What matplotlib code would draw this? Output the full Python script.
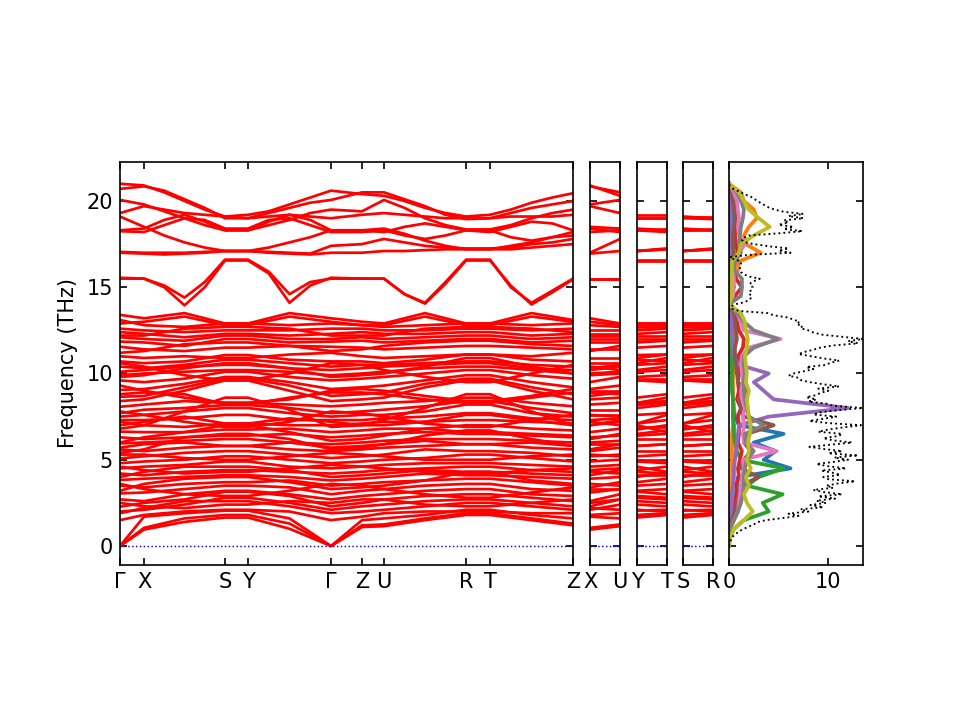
import numpy as np
import matplotlib
matplotlib.use("Agg")
import matplotlib.pyplot as plt

# high-symmetry points of the main path (path length)
main_labels = ["Γ", "X", "S", "Y", "Γ", "Z", "U", "R", "T", "Z"]
main_q = [0.0, 0.024, 0.105, 0.128, 0.211, 0.242, 0.264, 0.346, 0.370, 0.453]
# short separate segments
seg_labels = [("X", "U"), ("Y", "T"), ("S", "R")]
seg_len = 0.030

# sampling of each main segment for the two band groups
fine_sub = [1, 4, 1, 4, 1, 1, 4, 1, 4]
coarse_sub = [1, 2, 1, 2, 1, 1, 2, 1, 2]

# upper bands (THz) on the fine grid:
# Γ X . . . S Y . . . Γ Z U . . . R T . . . Z
bands_high = [
    [21.0, 20.9, 20.5, 20.0, 19.5, 19.1, 19.2, 19.4, 19.8, 20.2, 20.6, 20.4, 20.3, 20.0, 19.6, 19.3, 19.1, 19.2, 19.5, 19.9, 20.2, 20.45],
    [20.7, 20.85, 20.6, 20.1, 19.6, 19.0, 19.0, 19.3, 19.6, 19.9, 20.06, 20.5, 20.5, 20.1, 19.7, 19.2, 18.95, 19.0, 19.3, 19.6, 19.8, 20.0],
    [20.06, 19.8, 19.4, 19.0, 18.6, 18.3, 18.3, 18.6, 18.9, 19.3, 19.5, 19.4, 20.06, 19.6, 19.0, 18.6, 18.35, 18.35, 18.6, 19.0, 19.3, 19.5],
    [19.3, 19.7, 19.5, 19.3, 19.2, 19.1, 19.0, 19.1, 19.2, 19.1, 19.0, 19.2, 19.3, 19.2, 19.1, 19.0, 19.0, 19.0, 19.1, 19.1, 19.1, 19.2],
    [19.1, 18.5, 18.0, 17.6, 17.3, 17.1, 17.1, 17.3, 17.6, 17.9, 18.3, 18.3, 18.4, 18.1, 17.7, 17.4, 17.2, 17.2, 17.4, 17.6, 17.9, 18.2],
    [18.3, 18.4, 18.9, 19.2, 18.8, 18.3, 18.3, 18.8, 19.2, 18.9, 18.3, 18.3, 18.2, 18.5, 18.7, 18.5, 18.3, 18.2, 18.5, 18.8, 18.7, 18.3],
    [18.25, 18.2, 18.6, 19.0, 18.9, 18.4, 18.4, 18.9, 19.0, 18.6, 18.2, 18.2, 18.3, 18.0, 17.8, 18.0, 18.3, 18.3, 17.9, 17.7, 17.9, 18.0],
    [17.05, 17.0, 17.0, 17.0, 17.05, 17.1, 17.1, 17.05, 17.0, 16.95, 17.4, 17.5, 17.8, 17.6, 17.4, 17.3, 17.25, 17.25, 17.3, 17.5, 17.6, 17.8],
    [17.0, 16.95, 16.9, 16.95, 17.0, 17.1, 17.1, 17.0, 16.95, 16.9, 17.0, 17.0, 17.1, 17.1, 17.15, 17.2, 17.2, 17.2, 17.2, 17.3, 17.4, 17.5],
    [15.5, 15.5, 15.1, 14.4, 15.3, 16.6, 16.6, 15.9, 14.6, 15.3, 15.5, 15.5, 15.5, 14.6, 14.1, 15.3, 16.6, 16.6, 15.0, 14.1, 14.8, 15.5],
    [15.55, 15.5, 15.0, 13.95, 15.0, 16.55, 16.55, 15.8, 14.1, 15.1, 15.55, 15.5, 15.5, 14.6, 14.05, 15.2, 16.55, 16.55, 15.1, 14.0, 14.7, 15.45],
]

# lower bands (THz) on the coarse grid: Γ X . S Y . Γ Z U . R T . Z
bands_low = [
    [0.0, 0.95, 1.4, 1.65, 1.65, 1.0, 0.0, 1.1, 1.15, 1.5, 1.8, 1.8, 1.5, 1.2],
    [0.0, 1.05, 1.6, 1.8, 1.8, 1.3, 0.0, 1.2, 1.25, 1.6, 1.9, 1.9, 1.6, 1.3],
    [0.0, 1.7, 1.9, 2.05, 2.05, 1.6, 0.0, 1.5, 1.6, 1.8, 2.1, 2.1, 1.8, 1.6],
    [1.5, 1.8, 2.0, 2.1, 2.1, 2.0, 1.5, 1.7, 1.9, 2.0, 2.0, 2.0, 1.9, 1.9],
    [1.9, 2.2, 2.6, 2.6, 2.6, 2.3, 1.9, 2.0, 2.1, 2.3, 2.5, 2.5, 2.3, 2.1],
    [2.0, 2.1, 2.4, 2.8, 2.8, 2.5, 2.1, 2.3, 2.4, 2.6, 2.7, 2.7, 2.5, 2.3],
    [2.28, 2.5, 2.7, 3.15, 3.15, 2.9, 2.3, 2.5, 2.7, 2.9, 3.0, 3.0, 2.8, 2.6],
    [2.5, 2.3, 2.2, 2.4, 2.4, 2.6, 2.5, 2.7, 2.7, 2.4, 2.3, 2.3, 2.5, 2.7],
    [2.7, 2.6, 3.0, 3.2, 3.2, 3.0, 2.7, 2.9, 3.0, 3.2, 3.3, 3.3, 3.0, 2.9],
    [3.05, 3.1, 3.3, 3.5, 3.5, 3.4, 3.0, 3.2, 3.3, 3.5, 3.6, 3.6, 3.3, 3.2],
    [3.2, 3.6, 3.9, 4.0, 4.0, 3.7, 3.3, 3.4, 3.5, 3.8, 4.3, 4.3, 3.8, 3.6],
    [3.5, 3.4, 3.6, 3.7, 3.7, 3.8, 3.5, 3.6, 3.7, 3.8, 3.9, 3.9, 3.7, 3.5],
    [3.6, 3.3, 3.0, 2.9, 2.9, 3.2, 3.6, 3.5, 3.3, 3.0, 2.8, 2.8, 3.1, 3.4],
    [3.83, 3.9, 4.0, 4.1, 4.1, 4.0, 3.8, 3.9, 4.0, 4.2, 4.1, 4.1, 4.0, 3.9],
    [4.0, 4.3, 4.6, 4.6, 4.6, 4.4, 4.0, 4.1, 4.2, 4.4, 4.3, 4.3, 4.2, 4.1],
    [4.2, 4.1, 4.3, 4.4, 4.4, 4.3, 4.2, 4.3, 4.4, 4.5, 4.6, 4.6, 4.4, 4.3],
    [4.5, 4.6, 4.7, 4.9, 4.9, 4.6, 4.5, 4.6, 4.7, 4.8, 4.8, 4.8, 4.7, 4.6],
    [4.6, 4.4, 4.2, 4.3, 4.3, 4.5, 4.7, 4.6, 4.5, 4.3, 4.2, 4.2, 4.4, 4.5],
    [4.8, 4.9, 5.0, 5.2, 5.2, 5.0, 4.8, 4.9, 5.0, 5.1, 5.3, 5.3, 5.1, 4.9],
    [5.08, 5.2, 5.4, 5.5, 5.5, 5.3, 5.1, 5.2, 5.3, 5.6, 5.5, 5.5, 5.4, 5.2],
    [5.3, 5.3, 5.1, 5.0, 5.0, 5.2, 5.4, 5.3, 5.2, 5.0, 5.0, 5.0, 5.2, 5.3],
    [5.4, 5.6, 6.3, 6.5, 6.5, 6.2, 5.6, 5.7, 5.9, 6.4, 6.7, 6.7, 6.2, 5.8],
    [5.6, 5.5, 5.7, 5.8, 5.8, 5.6, 5.5, 5.6, 5.7, 5.8, 5.9, 5.9, 5.7, 5.6],
    [5.7, 5.9, 6.0, 5.8, 5.8, 6.0, 5.7, 5.8, 5.9, 6.1, 5.9, 5.9, 6.0, 5.8],
    [5.95, 6.0, 6.1, 6.2, 6.2, 6.0, 5.9, 6.0, 6.1, 6.2, 6.2, 6.2, 6.1, 6.0],
    [6.0, 6.3, 6.6, 7.0, 7.0, 6.6, 6.1, 6.2, 6.4, 6.8, 6.6, 6.6, 6.5, 6.4],
    [6.3, 6.2, 6.3, 6.4, 6.4, 6.5, 6.3, 6.4, 6.5, 6.6, 6.5, 6.5, 6.4, 6.3],
    [6.63, 6.6, 6.6, 6.75, 6.75, 6.8, 6.6, 6.7, 6.8, 6.8, 7.0, 7.0, 6.8, 6.7],
    [6.8, 7.0, 7.8, 8.6, 8.6, 7.9, 6.9, 7.0, 7.3, 8.0, 8.8, 8.8, 7.8, 7.0],
    [7.0, 7.2, 7.5, 7.1, 7.1, 7.4, 7.2, 7.0, 7.0, 7.2, 7.6, 7.6, 7.3, 7.0],
    [7.2, 7.0, 6.9, 7.1, 7.1, 7.0, 7.0, 7.1, 7.2, 7.2, 7.3, 7.3, 7.2, 7.1],
    [7.3, 7.3, 7.4, 7.6, 7.6, 7.3, 7.3, 7.3, 7.4, 7.5, 7.7, 7.7, 7.4, 7.3],
    [7.5, 7.6, 7.8, 8.0, 8.0, 7.7, 7.5, 7.6, 7.6, 7.8, 8.2, 8.2, 7.7, 7.5],
    [7.7, 7.9, 8.0, 8.17, 8.17, 8.0, 7.7, 7.8, 7.9, 8.1, 8.4, 8.4, 8.0, 7.7],
    [7.8, 7.6, 7.2, 6.9, 6.9, 7.2, 7.8, 7.7, 7.5, 7.1, 6.9, 6.9, 7.3, 7.6],
    [8.07, 8.2, 8.4, 8.3, 8.3, 8.2, 8.1, 8.2, 8.3, 8.4, 8.6, 8.6, 8.3, 8.1],
    [8.4, 8.5, 9.0, 9.6, 9.6, 9.0, 8.4, 8.5, 8.6, 9.2, 9.6, 9.6, 9.0, 8.5],
    [8.65, 8.7, 9.2, 9.7, 9.7, 9.3, 8.7, 8.8, 8.9, 9.4, 9.7, 9.7, 9.2, 8.8],
    [8.8, 8.9, 8.8, 8.2, 8.2, 8.6, 8.9, 8.9, 8.8, 8.5, 8.3, 8.3, 8.6, 8.9],
    [9.05, 9.1, 9.4, 9.8, 9.8, 9.5, 9.1, 9.2, 9.3, 9.6, 9.9, 9.9, 9.5, 9.2],
    [9.3, 9.0, 8.6, 8.3, 8.3, 8.5, 9.0, 9.1, 9.0, 8.7, 8.4, 8.4, 8.7, 9.1],
    [9.6, 9.5, 9.7, 10.1, 10.1, 9.8, 9.6, 9.7, 9.8, 10.0, 10.2, 10.2, 9.9, 9.7],
    [9.8, 9.9, 10.3, 10.6, 10.6, 10.3, 9.8, 9.9, 10.0, 10.4, 10.9, 10.9, 10.4, 10.0],
    [9.9, 10.0, 10.1, 10.2, 10.2, 10.1, 9.9, 10.0, 10.1, 10.3, 10.4, 10.4, 10.2, 10.0],
    [10.1, 10.2, 10.4, 10.5, 10.5, 10.3, 10.2, 10.3, 10.4, 10.5, 10.6, 10.6, 10.3, 10.2],
    [10.4, 10.3, 10.5, 10.8, 10.8, 10.6, 10.4, 10.5, 10.5, 10.6, 10.7, 10.7, 10.5, 10.4],
    [10.6, 10.4, 9.9, 9.6, 9.6, 10.0, 10.6, 10.5, 10.2, 9.8, 9.5, 9.5, 10.0, 10.5],
    [10.7, 10.6, 10.7, 11.07, 11.07, 10.8, 10.7, 10.7, 10.6, 10.8, 11.1, 11.1, 10.8, 10.7],
    [11.0, 10.9, 11.0, 10.9, 10.9, 11.1, 11.2, 11.0, 10.9, 11.0, 11.1, 11.1, 11.0, 11.2],
    [11.2, 11.3, 11.7, 11.8, 11.8, 11.6, 11.3, 11.4, 11.6, 11.8, 11.9, 11.9, 11.7, 11.6],
    [11.55, 11.4, 11.3, 11.5, 11.5, 11.6, 11.55, 11.5, 11.4, 11.5, 11.6, 11.6, 11.5, 11.4],
    [11.85, 11.8, 11.6, 12.0, 12.0, 11.8, 11.85, 11.9, 11.8, 11.9, 12.0, 12.0, 11.8, 11.9],
    [12.1, 12.0, 11.9, 12.2, 12.2, 12.0, 12.0, 12.1, 12.0, 12.1, 12.2, 12.2, 12.0, 12.1],
    [12.2, 12.2, 12.6, 12.7, 12.7, 12.6, 12.2, 12.2, 12.2, 12.6, 12.7, 12.7, 12.6, 12.4],
    [12.4, 12.3, 12.1, 12.3, 12.3, 12.2, 12.3, 12.4, 12.3, 12.3, 12.4, 12.4, 12.2, 12.3],
    [12.6, 12.5, 12.4, 12.5, 12.5, 12.5, 12.6, 12.6, 12.5, 12.5, 12.6, 12.6, 12.5, 12.6],
    [12.9, 13.0, 13.3, 12.8, 12.8, 13.3, 13.0, 12.8, 12.8, 13.3, 12.8, 12.8, 13.3, 13.0],
    [13.1, 12.8, 12.7, 12.9, 12.9, 12.8, 12.9, 12.8, 12.7, 12.8, 12.9, 12.9, 12.8, 12.9],
    [13.4, 13.2, 13.5, 12.9, 12.9, 13.5, 13.2, 13.0, 12.9, 13.5, 12.9, 12.9, 13.5, 13.1],
]

# density of states: total on a 0.125 THz grid (one row per THz)
dos_total = [
    0.0, 0.05, 0.1, 0.2, 0.3, 0.5, 0.8, 1.1,
    1.5, 2.0, 2.5, 2.8, 3.7, 5.5, 7.0, 6.0,
    8.0, 7.2, 9.5, 8.2, 9.8, 8.8, 10.7, 9.0,
    11.4, 9.6, 8.5, 10.5, 9.8, 11.0, 12.7, 10.0,
    9.5, 11.2, 10.4, 9.3, 11.8, 10.0, 8.8, 10.5,
    12.0, 10.6, 13.0, 10.0, 11.4, 9.5, 8.1, 10.2,
    12.4, 10.5, 9.5, 11.0, 11.4, 9.0, 10.0, 11.5,
    13.3, 10.0, 8.1, 9.5, 10.8, 8.5, 9.2, 11.0,
    13.5, 10.5, 9.8, 8.0, 8.8, 7.8, 8.8, 9.2,
    10.0, 9.0, 11.1, 9.5, 8.1, 7.2, 7.0, 6.0,
    6.5, 7.5, 8.5, 7.8, 9.8, 10.2, 11.1, 9.5,
    8.3, 7.0, 7.6, 8.5, 9.2, 10.5, 13.0, 12.0,
    13.5, 11.5, 9.4, 8.5, 8.0, 7.2, 7.4, 6.8,
    7.1, 6.5, 5.9, 4.5, 3.9, 1.0, 0.3, 0.2,
    0.5, 1.5, 2.0, 2.2, 2.3, 2.0, 2.1, 2.3,
    2.4, 2.1, 2.2, 2.6, 3.1, 2.0, 1.5, 1.2,
    1.1, 1.1, 1.1, 1.2, 1.2, 0.5, 0.1, 2.0,
    6.2, 5.0, 6.0, 4.0, 2.5, 1.5, 1.3, 1.5,
    2.0, 5.0, 7.4, 5.5, 6.5, 5.0, 6.0, 5.5,
    7.5, 6.0, 7.5, 5.5, 4.6, 4.0, 3.6, 3.2,
    2.9, 2.5, 2.2, 1.6, 1.2, 0.7, 0.3, 0.1,
    0.0,
]
# projected densities on a 0.5 THz grid
pdos = {
    "tab:blue": [0, 0, 0.1, 0.3, 0.5, 0.6, 0.7, 0.8, 0.9, 6.2,
                 3.5, 4.7, 2.5, 5.5, 1.0, 0.6, 0.5, 0.4, 0.4, 0.3,
                 0.4, 0.3, 0.3, 0.3, 0.4, 0.3, 0.3, 0.2, 0, 0.1,
                 0.1, 0.1, 0.1, 0.1, 0.2, 0.2, 0.2, 0.2, 0.2, 0.2, 0.1, 0.1, 0],
    "tab:orange": [0, 0, 0, 0.1, 0.2, 0.2, 0.2, 0.3, 0.3, 0.3,
                   0.3, 0.3, 0.3, 0.3, 0.4, 0.4, 0.5, 0.4, 0.4, 0.4,
                   0.4, 0.5, 0.5, 0.5, 0.6, 0.6, 0.5, 0.4, 0, 0.3,
                   0.4, 0.5, 0.9, 1.0, 3.2, 1.7, 1.5, 2.0, 2.8, 2.5, 1.5, 1.2, 0],
    "tab:green": [0, 0.1, 0.5, 1.5, 4.0, 3.4, 5.4, 1.8, 3.0, 5.5,
                  1.2, 0.8, 0.6, 0.5, 0.5, 0.4, 0.4, 0.4, 0.3, 0.3,
                  0.3, 0.3, 0.3, 0.3, 0.3, 0.3, 0.3, 0.2, 0, 0.1,
                  0.1, 0.1, 0.1, 0.1, 0.1, 0.1, 0.1, 0.1, 0.1, 0.1, 0.1, 0, 0],
    "tab:red": [0, 0, 0.1, 0.3, 0.5, 0.6, 0.8, 0.7, 1.0, 0.9,
                1.1, 1.3, 0.9, 1.0, 1.0, 0.9, 1.2, 0.8, 1.0, 0.9,
                1.0, 1.1, 0.9, 1.4, 1.5, 1.0, 0.8, 0.6, 0, 0.6,
                1.3, 0.7, 0.5, 0.6, 0.9, 0.7, 0.6, 0.7, 0.8, 0.7, 0.6, 0.4, 0],
    "tab:purple": [0, 0, 0, 0.1, 0.2, 0.3, 0.3, 0.4, 0.5, 0.5,
                   0.6, 0.7, 0.8, 0.9, 1.0, 4.0, 12.0, 4.5, 3.5, 2.5,
                   4.0, 1.0, 0.5, 0.4, 0.4, 0.3, 0.3, 0.2, 0, 0.1,
                   0.1, 0.1, 0.1, 0.1, 0.1, 0.1, 0.1, 0.1, 0.1, 0.1, 0.1, 0, 0],
    "tab:brown": [0, 0, 0.1, 0.3, 0.6, 0.8, 1.0, 1.2, 3.0, 1.2,
                  1.5, 2.2, 1.5, 1.8, 4.5, 1.5, 1.2, 1.0, 1.8, 0.9,
                  0.8, 0.7, 0.6, 0.6, 0.8, 0.7, 0.6, 0.5, 0, 0.3,
                  0.4, 0.4, 0.3, 0.3, 0.5, 0.4, 0.4, 0.5, 0.6, 0.5, 0.4, 0.3, 0],
    "tab:pink": [0, 0, 0.1, 0.5, 0.9, 1.0, 1.1, 1.2, 1.3, 1.5,
                 1.4, 4.8, 1.5, 1.4, 1.5, 1.4, 1.6, 1.3, 1.2, 1.4,
                 1.3, 1.2, 1.3, 2.0, 5.2, 1.5, 1.2, 0.8, 0, 0.4,
                 0.5, 0.5, 0.4, 0.6, 1.0, 1.6, 1.0, 0.9, 1.0, 0.9, 0.8, 0.5, 0],
    "tab:gray": [0, 0, 0.1, 0.5, 0.9, 1.2, 1.4, 1.5, 1.5, 1.6,
                 1.8, 2.5, 1.7, 1.6, 3.5, 2.0, 1.8, 1.6, 1.5, 1.5,
                 1.6, 1.5, 1.5, 2.5, 4.9, 2.5, 1.5, 0.8, 0, 1.2,
                 1.3, 1.3, 0.5, 0.6, 1.2, 1.0, 1.1, 1.2, 1.4, 1.5, 1.2, 0.8, 0],
    "tab:olive": [0, 0.1, 0.5, 1.5, 2.4, 1.8, 1.5, 2.0, 1.7, 2.2,
                  1.8, 2.0, 1.9, 2.1, 2.2, 2.0, 1.9, 1.8, 2.0, 1.7,
                  1.8, 1.7, 1.6, 1.8, 1.9, 1.7, 1.6, 1.2, 0, 0.3,
                  0.3, 0.3, 0.3, 0.3, 1.0, 1.2, 2.5, 4.1, 3.0, 2.0, 1.5, 1.0, 0],
}


def path_grid(nsub):
    q = [main_q[0]]
    for i, n in enumerate(nsub):
        q += list(np.linspace(main_q[i], main_q[i + 1], n + 1)[1:])
    return np.array(q)


def node_index(nsub):
    return np.concatenate([[0], np.cumsum(nsub)])


q_fine = path_grid(fine_sub)
q_coarse = path_grid(coarse_sub)
idx_fine = node_index(fine_sub)
idx_coarse = node_index(coarse_sub)

ylim = (-1.1, 22.26)
band_lw = 1.3

fig = plt.figure(figsize=(6.4, 4.8), dpi=150)
bottom, height = 0.2153, 0.5597
ax = fig.add_axes([0.125, bottom, 0.4719, height])
ax_xu = fig.add_axes([0.6146, bottom, 0.03125, height])
ax_yt = fig.add_axes([0.66354, bottom, 0.03125, height])
ax_sr = fig.add_axes([0.71146, bottom, 0.03125, height])
ax_dos = fig.add_axes([0.759375, bottom, 0.13958, height])

for b in bands_high:
    ax.plot(q_fine, b, color="r", lw=band_lw)
for b in bands_low:
    ax.plot(q_coarse, b, color="r", lw=band_lw)
ax.axhline(0, color="b", ls=":", lw=0.7)
ax.set_xlim(main_q[0], main_q[-1])
ax.set_xticks(main_q)
ax.set_xticklabels(main_labels)
ax.set_ylabel("Frequency (THz)")

# separate short segments: endpoints taken from the main band values
seg_points = [(1, 6), (3, 8), (2, 7)]  # X-U, Y-T, S-R as positions in main_labels
for sax, (i0, i1), (l0, l1) in zip([ax_xu, ax_yt, ax_sr], seg_points, seg_labels):
    for b in bands_high:
        sax.plot([0, seg_len], [b[idx_fine[i0]], b[idx_fine[i1]]], color="r", lw=band_lw)
    for b in bands_low:
        sax.plot([0, seg_len], [b[idx_coarse[i0]], b[idx_coarse[i1]]], color="r", lw=band_lw)
    sax.axhline(0, color="b", ls=":", lw=0.7)
    sax.set_xlim(0, seg_len)
    sax.set_xticks([0, seg_len])
    sax.set_xticklabels([l0, l1])
    sax.tick_params(labelleft=False)

freq_total = np.arange(len(dos_total)) * 0.125
freq_p = np.arange(len(pdos["tab:blue"])) * 0.5
for c, vals in pdos.items():
    ax_dos.plot(vals, freq_p, color=c, lw=1.8)
ax_dos.plot(dos_total, freq_total, color="k", ls=":", lw=0.9)
ax_dos.set_xlim(0, 13.5)
ax_dos.set_xticks([0, 10])
ax_dos.tick_params(labelleft=False)

for a in [ax, ax_xu, ax_yt, ax_sr, ax_dos]:
    a.set_ylim(*ylim)
    a.set_yticks([0, 5, 10, 15, 20])
    a.tick_params(direction="in", top=True, right=True)

fig.savefig("out.png", dpi=150)
